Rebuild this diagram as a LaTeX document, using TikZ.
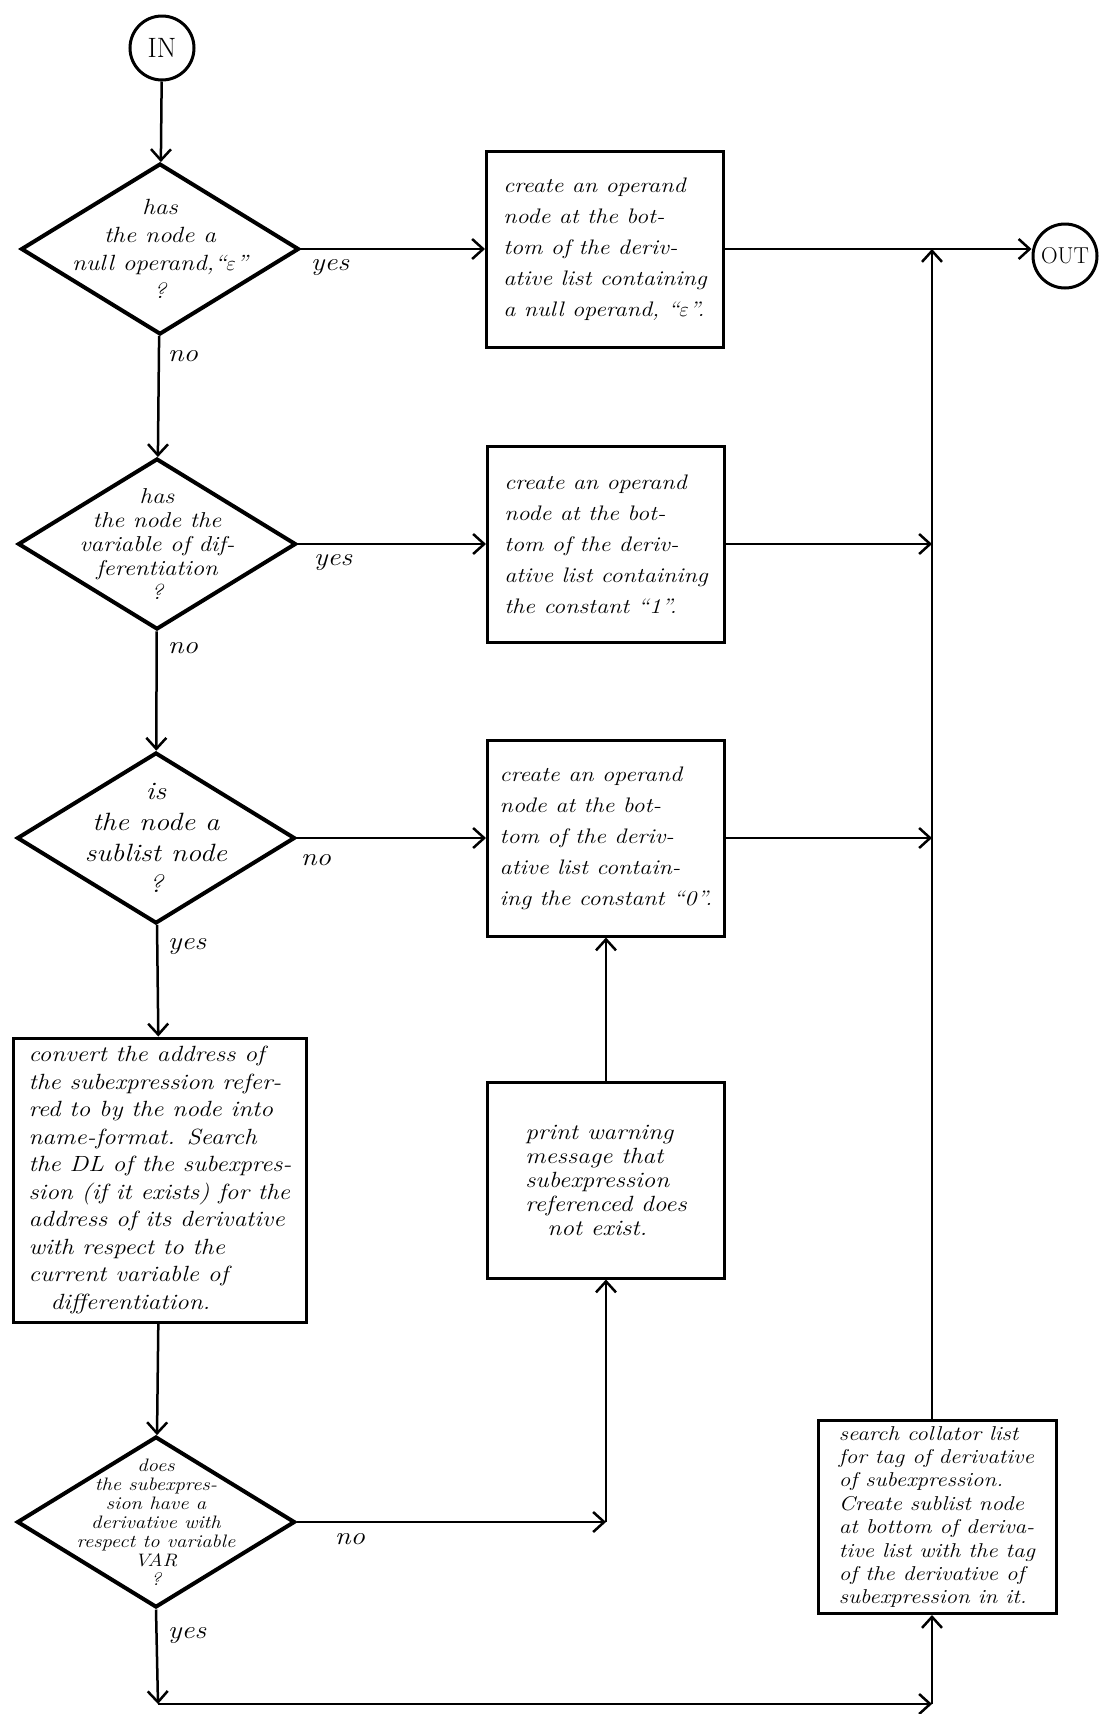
\documentclass[tikz,border=0pt]{standalone}
\usepackage{fontspec}
\usepackage{tikz}
\usetikzlibrary{shapes.geometric,arrows.meta}
\newfontfamily\hand{Latin Modern Roman}[FakeStretch=1.15, Ligatures=TeX]
\tikzset{
  term/.style={circle, draw, line width=3pt, minimum size=64pt, inner sep=0pt, font=\fontsize{28}{28}\selectfont},
  dec/.style={diamond, draw, line width=4pt, inner sep=0pt, minimum width=278pt, minimum height=171pt},
  dtxt/.style={align=center, inner sep=0pt, font=\hand\fontsize{22}{28}\selectfont\itshape},
  proc/.style={rectangle, draw, line width=3pt, minimum width=237pt, minimum height=196pt, align=left, inner sep=0pt, font=\hand\fontsize{21}{31}\selectfont\itshape},
  arr/.style={-{Straight Barb[length=11pt,width=20pt]}, line width=2.5pt},
  lbl/.style={font=\hand\fontsize{25}{25}\selectfont\itshape, inner sep=0pt}
}

\begin{document}
\begin{tikzpicture}[x=1pt, y=-1pt]
  \useasboundingbox (0,0) rectangle (1107,1714);
  % left column
  \node[term] (in) at (162,48) {IN};
  \node[dec] (d1) at (160,249) {};
  \node[dtxt] (d1t) at (d1) {has\\the node a\\null operand,``$\varepsilon$''\\?};
  \node[dec] (d2) at (157,544) {};
  \node[dtxt, font=\hand\fontsize{21.5}{24}\selectfont\itshape] (d2t) at (d2) {has\\the node the\\variable of dif-\\ferentiation\\?};
  \node[dec] (d3) at (156,838) {};
  \node[dtxt, font=\hand\fontsize{25}{31}\selectfont\itshape] (d3t) at (d3) {is\\the node a\\sublist node\\?};
  \node[proc, minimum width=293pt, minimum height=284pt, font=\hand\fontsize{22}{27.5}\selectfont\itshape] (b4) at (160,1180)
    {convert the address of\\the subexpression refer-\\red to by the node into\\name-format. Search\\the DL of the subexpres-\\sion (if it exists) for the\\address of its derivative\\with respect to the\\current variable of\\\quad differentiation.};
  \node[dec] (d4) at (156,1522) {};
  \node[dtxt, font=\hand\fontsize{18}{19}\selectfont\itshape] (d4t) at (d4) {does\\the subexpres-\\sion have a\\derivative with\\respect to variable\\VAR\\?};
  % middle column
  \node[proc] (b1) at (605,249)
    {create an operand\\node at the bot-\\tom of the deriv-\\ative list containing\\a null operand, ``$\varepsilon$''.};
  \node[proc] (b2) at (606,544)
    {create an operand\\node at the bot-\\tom of the deriv-\\ative list containing\\the constant ``1''.};
  \node[proc] (b3) at (606,838)
    {create an operand\\node at the bot-\\tom of the deriv-\\ative list contain-\\ing the constant ``0''.};
  \node[proc, font=\hand\fontsize{22}{24}\selectfont\itshape] (b5) at (606,1180)
    {print warning\\message that\\subexpression\\referenced does\\\quad not exist.};
  % right column
  \node[term, font=\fontsize{23}{23}\selectfont] (out) at (1065,256) {OUT};
  \node[proc, minimum width=238pt, minimum height=193pt, font=\hand\fontsize{20}{23.4}\selectfont\itshape] (b6) at (937,1517)
    {search collator list\\for tag of derivative\\of subexpression.\\Create sublist node\\at bottom of deriva-\\tive list with the tag\\of the derivative of\\subexpression in it.};
  \coordinate (j1) at (932,249);
  \coordinate (j2) at (932,544);
  \coordinate (j3) at (932,838);
  \coordinate (c1) at (b5.south |- d4.east);
  \coordinate (c2) at (158,1704);
  \coordinate (c3) at (932,1704);

  % connectors
  \draw[arr] (in) -- (d1);
  \draw[arr] (d1) -- (b1);
  \draw[arr] (d1) -- (d2);
  \draw[arr] (d2) -- (b2);
  \draw[arr] (d2) -- (d3);
  \draw[arr] (d3) -- (b3);
  \draw[arr] (d3) -- (b4);
  \draw[arr] (b4) -- (d4);
  \draw[arr] (d4.east) -- (c1);
  \draw[arr] (c1) -- (b5.south);
  \draw[arr] (b5) -- (b3);
  \draw[arr] (d4.south) -- (c2);
  \draw[arr] (c2) -- (c3);
  \draw[arr] (c3) -- (b6.south -| c3);
  \draw[arr] (b6.north -| j1) -- (j1);
  \draw[arr] (b1.east) -- (b1.east -| out.west);
  \draw[arr] (b2) -- (j2);
  \draw[arr] (b3) -- (j3);

  % branch labels
  \node[lbl] (y1) at (330,268) {yes};
  \node[lbl] (n1) at (183,356) {no};
  \node[lbl] (y2) at (333,563) {yes};
  \node[lbl] (n2) at (183,648) {no};
  \node[lbl] (n3) at (316,860) {no};
  \node[lbl] (y3) at (187,947) {yes};
  \node[lbl] (n4) at (350,1539) {no};
  \node[lbl] (y4) at (187,1636) {yes};
\end{tikzpicture}
\end{document}
